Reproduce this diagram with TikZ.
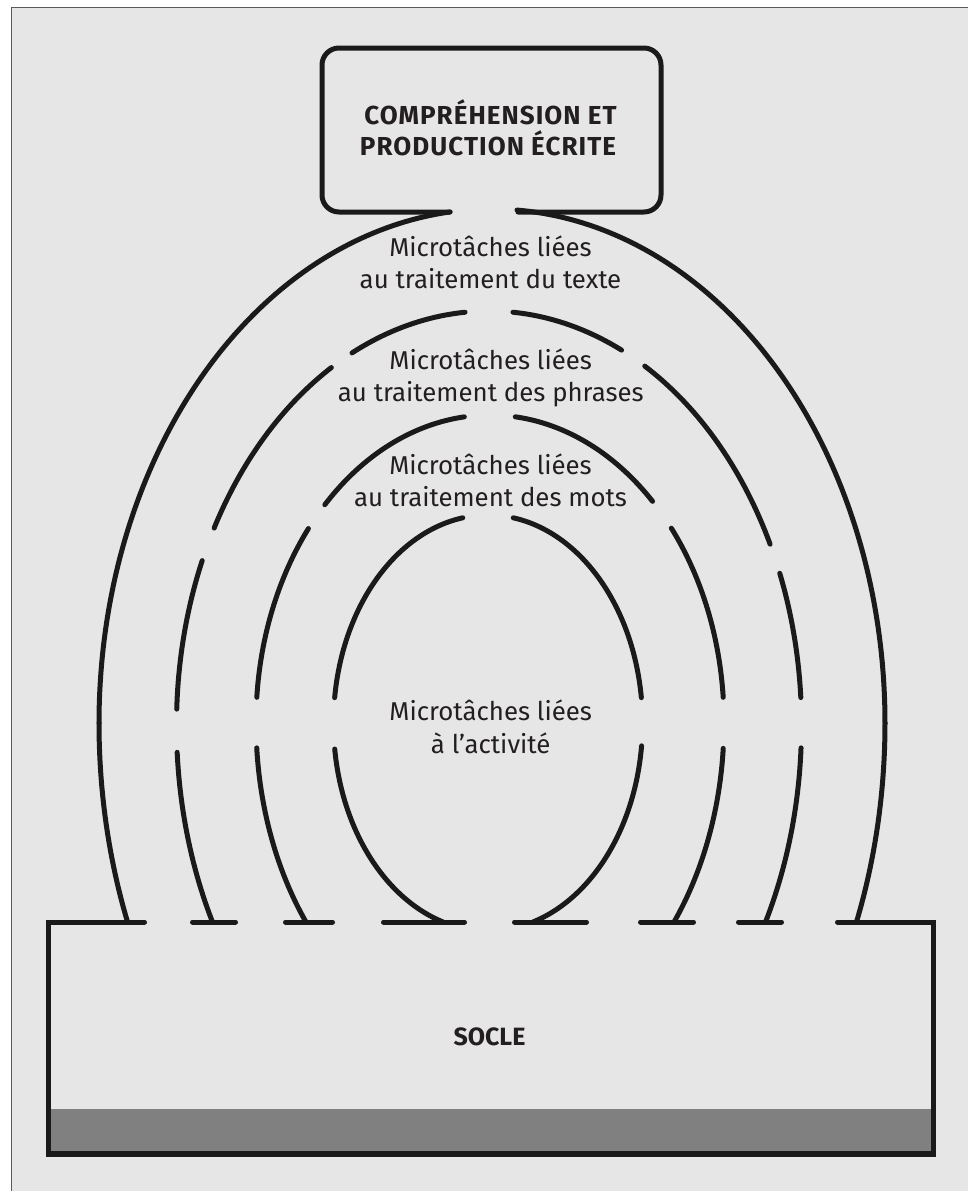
\documentclass[tikz,border=0pt]{standalone}
\usepackage{fontspec}
\setmainfont{Fira Sans}
\newfontfamily\titlefont[LetterSpace=4]{Fira Sans}
\definecolor{bg}{HTML}{E6E6E6}
\definecolor{ink}{HTML}{1A1A1A}
\definecolor{txt}{HTML}{231F20}
\definecolor{band}{HTML}{808080}
\definecolor{frame}{HTML}{5A5A5A}
\newcommand\ellpiece[6]{\draw[arcline] plot[domain=#5:#6, samples=90] ({#1+#3*cos(\x)},{#2-#4*sin(\x)});}
\begin{document}
\begin{tikzpicture}[x=1pt,y=-1pt,
  arcline/.style={line width=5pt, draw=ink, line cap=round, line join=round},
  boxline/.style={line width=5pt, draw=ink, line cap=round},
  lbl/.style={anchor=base, inner sep=0pt, text=txt, font=\fontsize{25.8}{30}\selectfont},
  ttl/.style={anchor=base, inner sep=0pt, text=txt, font=\titlefont\fontsize{26}{30}\selectfont\bfseries},
  sttl/.style={anchor=base, inner sep=0pt, text=txt, font=\fontsize{25}{30}\selectfont\bfseries}]
\useasboundingbox (0,0) rectangle (968,1191);
% panel
\fill[white] (0,0) rectangle (968,1191);
\fill[bg] (11.7,7.3) rectangle (968,1191);
\draw[frame, line width=1.4pt] (11.7,1191) -- (11.7,7.3) -- (968,7.3);
% title box
\draw[boxline, rounded corners=17pt] (450,212) -- (322,212) -- (322,48) -- (661,48) -- (661,212) -- (518,212);
\node[ttl] (t1) at (490.5,124) {COMPRÉHENSION ET};
\node[ttl] (t2) at (488,155.7) {PRODUCTION ÉCRITE};
% socle
\fill[band] (48,1109) rectangle (933,1154);
\draw[boxline, line join=miter] (144.5,922) -- (48,922) -- (48,1154) -- (933,1154) -- (933,922) -- (837.5,922);
\draw[ink, line width=6pt] (48,1154) -- (933,1154);
\foreach \a/\b in {192.5/235.5, 285.5/332.5, 383.5/464.5, 514.5/586.5, 640.5/693.5, 738.5/781.5}
  \draw[boxline] (\a,922) -- (\b,922);
\node[sttl] (socle) at (489.5,1045) {SOCLE};
% arc 1 (outer)
\ellpiece{492}{723}{393}{514}{96.13}{180}
\ellpiece{492}{723}{393}{532}{180}{201.97}
\ellpiece{492}{723}{393}{514}{86.35}{0}
\ellpiece{492}{723}{393}{532}{0}{-21.97}
% arc 2
\ellpiece{489}{725}{312.5}{414}{94.4}{116}
\ellpiece{489}{725}{312.5}{414}{120.3}{151.6}
\ellpiece{489}{725}{312.5}{414}{156.6}{177.8}
\ellpiece{489}{725}{312.5}{423}{183.7}{207.75}
\ellpiece{489}{725}{312.5}{414}{85.6}{64.9}
\ellpiece{489}{725}{312.5}{414}{60.1}{25.9}
\ellpiece{489}{725}{312.5}{414}{21.5}{3.8}
\ellpiece{489}{725}{312.5}{423}{-3.1}{-27.75}
% arc 3
\ellpiece{490}{722.5}{234}{307.5}{96.3}{134.9}
\ellpiece{490}{722.5}{234}{307.5}{140.9}{175.3}
\ellpiece{490}{722.5}{234}{323}{184.5}{218.1}
\ellpiece{490}{722.5}{234}{307.5}{83.8}{46}
\ellpiece{490}{722.5}{234}{307.5}{39.2}{4.7}
\ellpiece{490}{722.5}{234}{323}{-4.6}{-38.1}
% arc 4 (inner)
\ellpiece{488}{723}{154.5}{208}{99.4}{173}
\ellpiece{488}{723}{154.5}{208}{187.2}{253.1}
\ellpiece{488}{723}{154.5}{208}{80.6}{7}
\ellpiece{488}{723}{154.5}{208}{-6.3}{-73.1}
% labels
\node[lbl] (l1a) at (490.5,256.7) {Microtâches liées};
\node[lbl] (l1b) at (490.5,288.3) {au traitement du texte};
\node[lbl] (l2a) at (490.7,369.3) {Microtâches liées};
\node[lbl] (l2b) at (490.8,401.7) {au traitement des phrases};
\node[lbl] (l3a) at (490.5,474.3) {Microtâches liées};
\node[lbl] (l3b) at (490.5,506) {au traitement des mots};
\node[lbl] (l4a) at (490.7,720) {Microtâches liées};
\node[lbl] (l4b) at (490.7,753.3) {à l’activité};
\end{tikzpicture}
\end{document}
